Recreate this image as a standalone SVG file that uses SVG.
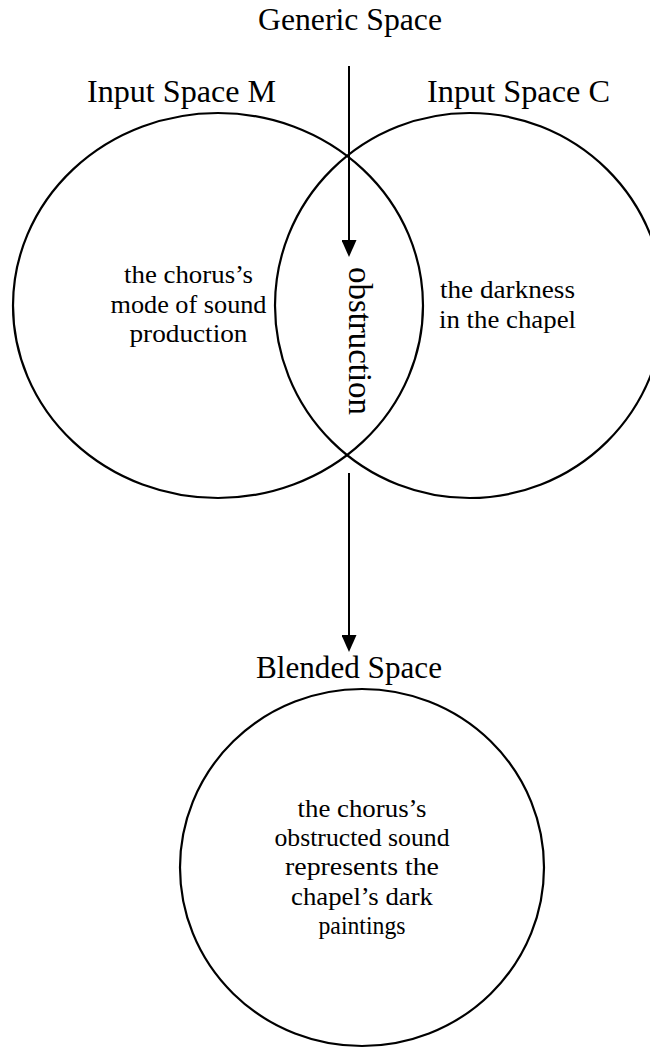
<svg xmlns="http://www.w3.org/2000/svg" width="650" height="1048" viewBox="0 0 650 1048">
<style>
  .bg{fill:#ffffff}
  .space{fill:none;stroke:#000;stroke-width:2.2}
  .title{font-family:"Liberation Serif","Times New Roman",serif;font-size:31px;fill:#000;text-anchor:middle}
  .body{font-family:"Liberation Serif","Times New Roman",serif;font-size:26px;fill:#000;text-anchor:middle}
  .vert{font-family:"Liberation Serif","Times New Roman",serif;font-size:33px;fill:#000;text-anchor:middle}
  .conn{fill:none;stroke:#000;stroke-width:2}
</style>
<defs>
  <marker id="arrow" viewBox="0 0 17 15" refX="10" refY="7.5" markerWidth="17" markerHeight="15" markerUnits="userSpaceOnUse" orient="auto">
    <path d="M0,0 L17,7.5 L0,15 Z" fill="#000"/>
  </marker>
</defs>
<rect class="bg" x="0" y="0" width="650" height="1048"/>

<g id="generic-space">
  <text class="title" x="350" y="29.5" textLength="184" lengthAdjust="spacingAndGlyphs">Generic Space</text>
</g>

<g id="input-space-m">
  <ellipse class="space" cx="218" cy="305.5" rx="205" ry="192.5"/>
  <text class="title" x="181.5" y="102" textLength="189" lengthAdjust="spacingAndGlyphs">Input Space M</text>
  <text class="body" x="188.5" y="282.7" textLength="129" lengthAdjust="spacingAndGlyphs">the chorus’s</text>
  <text class="body" x="188.5" y="312.5" textLength="156" lengthAdjust="spacingAndGlyphs">mode of sound</text>
  <text class="body" x="188.5" y="342" textLength="118" lengthAdjust="spacingAndGlyphs">production</text>
</g>

<g id="input-space-c">
  <ellipse class="space" cx="469.5" cy="305.5" rx="194.5" ry="192.5"/>
  <text class="title" x="518.5" y="102" textLength="183" lengthAdjust="spacingAndGlyphs">Input Space C</text>
  <text class="body" x="507.5" y="297.5" textLength="135" lengthAdjust="spacingAndGlyphs">the darkness</text>
  <text class="body" x="507.5" y="328" textLength="137" lengthAdjust="spacingAndGlyphs">in the chapel</text>
</g>

<g id="shared-obstruction">
  <text class="vert" transform="translate(349,341) rotate(90)" x="0" y="0" textLength="148" lengthAdjust="spacingAndGlyphs">obstruction</text>
</g>

<g id="blended-space">
  <ellipse class="space" cx="362" cy="867.5" rx="182" ry="178.5"/>
  <text class="title" x="349" y="678" textLength="186" lengthAdjust="spacingAndGlyphs">Blended Space</text>
  <text class="body" x="362" y="816.5" textLength="129" lengthAdjust="spacingAndGlyphs">the chorus’s</text>
  <text class="body" x="362" y="846" textLength="175" lengthAdjust="spacingAndGlyphs">obstructed sound</text>
  <text class="body" x="362" y="875" textLength="154" lengthAdjust="spacingAndGlyphs">represents the</text>
  <text class="body" x="362" y="904.5" textLength="142" lengthAdjust="spacingAndGlyphs">chapel’s dark</text>
  <text class="body" x="362" y="933.5" textLength="87" lengthAdjust="spacingAndGlyphs">paintings</text>
</g>

<g id="connectors">
  <line class="conn" x1="349" y1="66" x2="349" y2="250" marker-end="url(#arrow)"/>
  <line class="conn" x1="349" y1="473" x2="349" y2="645" marker-end="url(#arrow)"/>
</g>
</svg>
